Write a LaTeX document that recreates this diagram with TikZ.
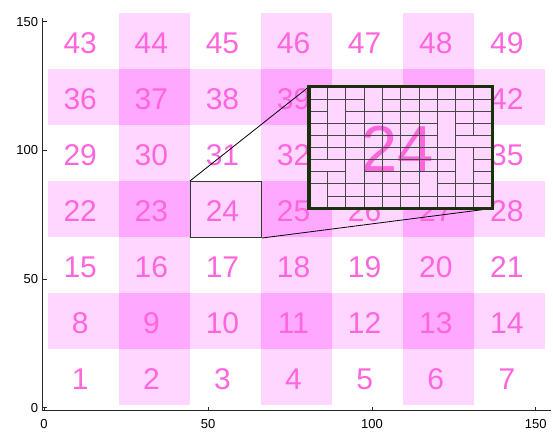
\documentclass[tikz,border=0pt]{standalone}
\usepackage{fontspec}
\setmainfont{Liberation Sans}
\definecolor{numpink}{RGB}{255,102,221}
\definecolor{bandpink}{RGB}{255,214,255}
\definecolor{crosspink}{RGB}{255,168,255}
\definecolor{insetborder}{RGB}{26,48,12}
\definecolor{smallborder}{RGB}{45,60,45}
\definecolor{axisgray}{RGB}{40,40,40}
\begin{document}
\begin{tikzpicture}[x=1pt,y=-1pt,
  num/.style={text=numpink, font=\fontsize{30}{30}\selectfont, inner sep=0pt},
  bignum/.style={text=numpink, font=\fontsize{65}{65}\selectfont, inner sep=0pt},
  ticklab/.style={font=\fontsize{13}{13}\selectfont, inner sep=0pt, text=black},
  axisline/.style={draw=axisgray, line width=0.9pt},
  fine/.style={draw=black!72, line width=0.6pt},
  link/.style={draw=black, line width=0.8pt}]
\useasboundingbox (0,0) rectangle (553,432);

% background bands
\foreach \c in {1,3,5}
  \fill[bandpink] ({47.7+71.1*\c},13) rectangle ({47.7+71.1*(\c+1)},405);
\foreach \r in {1,3,5}
  \fill[bandpink] (47.7,{13+56*\r}) rectangle (545.4,{13+56*(\r+1)});
\foreach \c in {1,3,5}
  \foreach \r in {1,3,5}
    \fill[crosspink] ({47.7+71.1*\c},{13+56*\r}) rectangle ({47.7+71.1*(\c+1)},{13+56*(\r+1)});

% numbers
\foreach \r in {0,...,6}
  \foreach \c in {0,...,6} {
    \pgfmathtruncatemacro\n{7*(6-\r)+\c+1}
    \node[num] (n\n) at ({47.7+71.1*\c+35.55-3},{13+56*\r+28+2.5}) {\n};
  }

% axes
\coordinate (ytop) at (42.7,18);
\coordinate (origin) at (42.7,410.7);
\coordinate (xend) at (551,410.7);
\draw[axisline] (ytop) -- (origin) -- (xend);
\foreach \v/\py in {0/407.7,50/279,100/150.4,150/21.7} {
  \draw[axisline] (42.7,\py) -- (46.7,\py);
  \node[ticklab, anchor=east] (yl\v) at (38.3,\py) {\v};
}
\foreach \v/\px in {0/44,50/208,100/372,150/535.7} {
  \draw[axisline] (\px,410.7) -- (\px,406.5);
  \node[ticklab, anchor=north] (xl\v) at (\px,419.3) {\v};
}

% source rectangle and zoom view
\node[draw=smallborder, line width=1pt, minimum width=71.1pt, minimum height=56pt,
      inner sep=0pt, anchor=north west] (zoomsrc) at (189.9,181) {};
\node[fill=bandpink, minimum width=183pt, minimum height=121.3pt, inner sep=0pt,
      anchor=north west] (zoomview) at (309,86.7) {};
\draw[link] (zoomsrc.north west) -- (zoomview.north west);
\draw[link] (zoomsrc.south east) -- (zoomview.south east);

\node[bignum] (big24) at (397.5,148.3) {24};

% merged cells of the mesh: col/row/width/height
\foreach \c/\r/\w/\h in {0/8/1/2, 1/1/1/2, 0/6/2/1, 2/6/1/2, 3/0/1/2, 7/2/1/3, 8/4/2/1, 8/5/1/3, 6/7/1/2} {
  \foreach \a in {1,...,\w}
    \foreach \b in {1,...,\h} {
      \pgfmathtruncatemacro\cc{\c+\a-1}
      \pgfmathtruncatemacro\rr{\r+\b-1}
      \expandafter\xdef\csname covr\cc-\rr\endcsname{1}
    }
  \draw[fine] ({309+18.3*\c},{86.7+12.13*\r}) rectangle ({309+18.3*(\c+\w)},{86.7+12.13*(\r+\h)});
}
\foreach \i in {0,...,9}
  \foreach \j in {0,...,9} {
    \ifcsname covr\i-\j\endcsname\else
      \draw[fine] ({309+18.3*\i},{86.7+12.13*\j}) rectangle +(18.3,12.13);
    \fi
  }

\draw[draw=insetborder, line width=3.3pt] (zoomview.north west) rectangle (zoomview.south east);
\end{tikzpicture}
\end{document}
